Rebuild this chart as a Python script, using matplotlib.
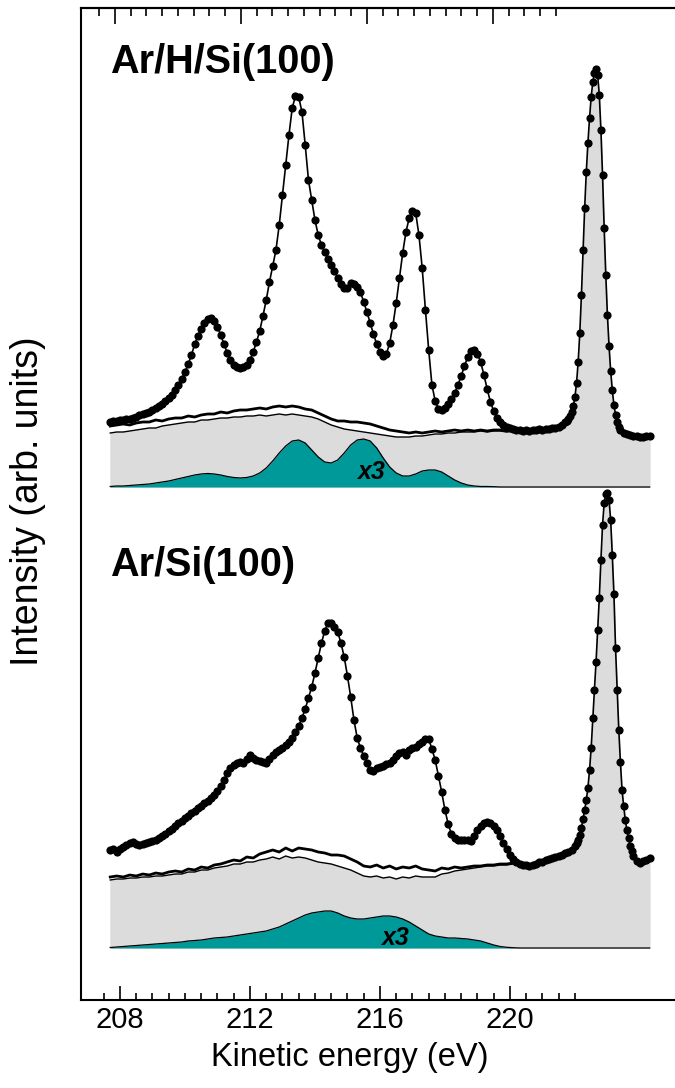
import matplotlib
matplotlib.use('Agg')
import matplotlib.pyplot as plt
import numpy as np

plt.rcParams['font.family'] = ['Liberation Sans', 'DejaVu Sans']

gray = '#dcdcdc'
teal = '#009999'

# ---- Ar/H/Si(100) (upper spectrum) ----
# measured points, eV ; fine step through the elastic peak
ah_energy = np.concatenate([np.arange(2077, 2218) / 10,
                            np.arange(22175, 22341, 5) / 100,
                            np.arange(2235, 2244) / 10])
ah_counts = np.array([
    6.5, 6.6, 6.6, 6.7, 6.7, 6.8, 6.8, 6.9, 7.0, 7.2,
    7.3, 7.4, 7.5, 7.7, 7.9, 8.1, 8.3, 8.6, 8.9, 9.2,
    9.7, 10.2, 10.8, 11.5, 12.3, 13.2, 14.3, 15.1, 15.8, 16.4,
    16.8, 16.9, 16.6, 16.0, 15.2, 14.3, 13.4, 12.7, 12.2, 12.0,
    11.9, 12.0, 12.2, 12.7, 13.5, 14.5, 15.6, 17.1, 18.7, 20.5,
    22.1, 23.7, 26.2, 29.2, 32.2, 35.2, 37.9, 39.1, 39.0, 37.5,
    34.2, 30.7, 28.7, 26.7, 25.2, 24.2, 23.5, 22.8, 22.2, 21.6,
    20.9, 20.3, 19.9, 19.9, 20.4, 20.3, 20.0, 19.5, 18.5, 17.5,
    16.4, 15.3, 14.3, 13.5, 13.1, 13.3, 14.4, 16.2, 18.4, 20.9,
    23.4, 25.5, 26.9, 27.6, 27.4, 25.2, 21.9, 17.7, 13.7, 10.2,
    8.6, 7.8, 7.7, 7.9, 8.3, 8.8, 9.4, 10.2, 11.1, 12.1,
    13.0, 13.6, 13.7, 13.3, 12.5, 11.2, 9.8, 8.5, 7.6, 6.9,
    6.5, 6.2, 6.0, 5.9, 5.8, 5.7, 5.7, 5.6, 5.7, 5.6,
    5.7, 5.7, 5.8, 5.7, 5.8, 5.8, 5.9, 5.9, 6.0, 6.2, 6.5,
    # elastic peak
    6.6, 6.8, 7.1, 7.5, 8.1, 9.0, 10.4, 12.5, 15.4, 19.2,
    23.7, 27.9, 31.5, 34.4, 36.9, 39.0, 40.5, 41.4, 41.8, 41.2,
    39.2, 35.7, 31.2, 25.9, 21.2, 17.2, 14.1, 11.6, 9.7, 8.2,
    7.2, 6.5, 6.0, 5.7,
    5.4, 5.3, 5.2, 5.1, 5.1, 5.0, 5.0, 5.1, 5.1])

# background curves and loss component, 0.2 eV grid
bg_energy = np.arange(2077, 2244, 2) / 10
ah_bg_hi = np.array([
    6.1, 6.2, 6.3, 6.2, 6.4, 6.5, 6.5, 6.7, 6.6, 6.8,
    6.9, 6.9, 7.1, 7.0, 7.2, 7.3, 7.3, 7.5, 7.4, 7.6,
    7.7, 7.7, 7.8, 7.9, 7.8, 8.0, 8.1, 8.0, 8.1, 8.0,
    7.8, 7.7, 7.4, 7.1, 6.8, 6.6, 6.6, 6.5, 6.5, 6.4,
    6.3, 6.1, 5.9, 5.7, 5.6, 5.5, 5.4, 5.5, 5.4, 5.5,
    5.6, 5.5, 5.6, 5.7, 5.6, 5.7, 5.6, 5.7, 5.6, 5.7,
    5.7, 5.6, 5.7, 5.7, 5.6, 5.7, 5.6, 5.7, 5.7, 5.8])
ah_bg_lo = np.array([
    5.4, 5.5, 5.5, 5.6, 5.7, 5.8, 5.9, 5.9, 6.1, 6.2,
    6.3, 6.4, 6.5, 6.5, 6.7, 6.7, 6.8, 6.9, 6.9, 7.0,
    7.0, 7.1, 7.1, 7.2, 7.1, 7.2, 7.3, 7.2, 7.3, 7.2,
    7.1, 7.0, 6.8, 6.5, 6.2, 6.0, 5.8, 5.7, 5.6, 5.5,
    5.4, 5.3, 5.2, 5.1, 5.0, 5.0, 5.0, 5.1, 5.1, 5.2,
    5.3, 5.3, 5.4, 5.4, 5.5, 5.5, 5.5, 5.6, 5.5, 5.6,
    5.6, 5.5, 5.6, 5.6, 5.5, 5.6, 5.6, 5.6, 5.6, 5.7])
ah_loss = np.array([
    0.05, 0.1, 0.1, 0.15, 0.2, 0.25, 0.3, 0.4, 0.5, 0.6,
    0.75, 0.9, 1.05, 1.2, 1.3, 1.35, 1.3, 1.2, 1.05, 0.95,
    0.9, 0.95, 1.1, 1.4, 1.9, 2.6, 3.4, 4.1, 4.6, 4.7,
    4.4, 3.7, 3.0, 2.5, 2.4, 2.7, 3.4, 4.2, 4.7, 4.8,
    4.6, 3.9, 2.9, 2.0, 1.4, 1.1, 1.1, 1.3, 1.6, 1.7,
    1.7, 1.5, 1.1, 0.7, 0.4, 0.2, 0.1, 0.05, 0.05, 0.03,
    0, 0, 0, 0, 0, 0, 0, 0, 0, 0,
    0, 0, 0, 0, 0, 0, 0, 0, 0, 0,
    0, 0, 0, 0])

# ---- Ar/Si(100) (lower spectrum) ----
ar_energy = np.concatenate([np.arange(2077, 2221) / 10,
                            np.arange(22205, 22376, 5) / 100,
                            np.arange(2238, 2244) / 10])
ar_counts = np.array([
    9.8, 9.9, 9.6, 9.9, 10.1, 10.3, 10.5, 10.6, 10.4, 10.3,
    10.4, 10.5, 10.6, 10.7, 10.8, 11.0, 11.2, 11.4, 11.7, 11.9,
    12.2, 12.5, 12.7, 13.0, 13.2, 13.5, 13.7, 14.0, 14.2, 14.5,
    14.7, 15.0, 15.3, 15.7, 16.2, 16.8, 17.5, 18.0, 18.3, 18.5,
    18.6, 18.5, 18.9, 19.3, 19.0, 18.8, 18.7, 18.6, 18.5, 18.9,
    19.3, 19.6, 19.8, 20.0, 20.3, 20.6, 21.0, 21.6, 22.2, 23.0,
    23.9, 25.0, 26.1, 27.5, 29.0, 30.5, 31.7, 32.5, 32.5, 32.1,
    31.6, 30.5, 29.1, 27.2, 25.1, 22.8, 21.0, 20.0, 19.2, 18.5,
    17.8, 17.7, 18.0, 18.1, 18.2, 18.4, 18.5, 18.8, 19.2, 19.5,
    19.6, 19.3, 19.8, 20.0, 20.1, 20.4, 20.6, 20.9, 20.9, 19.9,
    18.8, 17.2, 15.6, 13.8, 12.4, 11.4, 11.0, 10.8, 10.8, 10.8,
    10.8, 10.7, 11.2, 11.8, 12.2, 12.5, 12.6, 12.5, 12.2, 11.8,
    11.2, 10.5, 9.9, 9.3, 8.9, 8.6, 8.4, 8.3, 8.3, 8.2,
    8.3, 8.4, 8.6, 8.6, 8.8, 8.9, 9.0, 9.1, 9.2, 9.3,
    9.5, 9.6, 9.8, 10.2,
    # elastic peak
    10.5, 10.8, 11.3, 12.0, 12.9, 13.8, 14.8, 16.0, 17.8, 20.0,
    23.0, 25.8, 28.6, 31.8, 35.0, 38.8, 42.3, 44.5, 45.4, 45.5,
    44.8, 42.8, 39.3, 35.4, 30.0, 25.8, 21.8, 18.6, 15.8, 14.2,
    12.8, 11.8, 11.0, 10.2, 9.7,
    9.2, 8.7, 8.5, 8.7, 8.8, 9.0])
ar_bg_hi = np.array([
    7.1, 7.2, 7.1, 7.3, 7.2, 7.4, 7.3, 7.5, 7.4, 7.6,
    7.7, 7.6, 7.9, 7.8, 8.1, 8.0, 8.3, 8.4, 8.6, 8.8,
    8.7, 9.1, 9.0, 9.4, 9.6, 9.8, 9.6, 10.0, 9.7, 10.0,
    9.9, 9.8, 9.6, 9.5, 9.3, 9.3, 9.2, 8.9, 8.6, 8.2,
    8.1, 8.3, 8.0, 8.2, 7.9, 8.1, 8.0, 8.2, 7.9, 7.8,
    7.7, 8.0, 7.9, 8.1, 8.0, 8.1, 8.2, 8.2, 8.3, 8.3,
    8.4, 8.4, 8.5])
ar_bg_lo = np.array([
    6.8, 6.9, 6.9, 7.0, 7.0, 7.1, 7.1, 7.2, 7.2, 7.3,
    7.4, 7.4, 7.6, 7.6, 7.8, 7.8, 8.0, 8.1, 8.2, 8.4,
    8.4, 8.6, 8.6, 8.8, 8.9, 9.1, 8.9, 9.2, 9.0, 9.1,
    9.0, 8.8, 8.6, 8.5, 8.4, 8.2, 8.0, 7.8, 7.5, 7.2,
    7.1, 7.2, 7.0, 7.1, 6.9, 7.1, 7.0, 7.2, 7.1, 7.1,
    7.1, 7.4, 7.5, 7.7, 7.8, 7.9, 8.0, 8.1, 8.2, 8.2,
    8.3, 8.3, 8.4])
ar_loss = np.array([
    0.05, 0.1, 0.15, 0.2, 0.25, 0.3, 0.35, 0.4, 0.45, 0.5,
    0.55, 0.6, 0.7, 0.75, 0.8, 0.9, 1.0, 1.05, 1.1, 1.2,
    1.3, 1.4, 1.5, 1.6, 1.7, 1.9, 2.1, 2.4, 2.7, 3.0,
    3.3, 3.5, 3.6, 3.7, 3.7, 3.5, 3.2, 3.0, 2.9, 2.9,
    3.0, 3.1, 3.2, 3.2, 3.1, 2.9, 2.6, 2.2, 1.8, 1.4,
    1.2, 1.1, 1.0, 1.0, 0.95, 0.9, 0.8, 0.7, 0.5, 0.3,
    0.15, 0.07, 0.03, 0, 0, 0, 0, 0, 0, 0,
    0, 0, 0, 0, 0, 0, 0, 0, 0, 0,
    0, 0, 0, 0])

ah_off = 51.3   # vertical offset of upper spectrum
ar_off = 5.2
ah_cut = 221.5  # where background meets the elastic peak
ar_cut = 220.1

fig = plt.figure(figsize=(6.75, 10.88), dpi=100)
ax = fig.add_axes([81 / 675, 88 / 1088, 594 / 675, 992 / 1088])


def spectrum(e, y, e_bg, hi, lo, loss, off, cut):
    n = len(hi)
    ax.fill_between(e_bg[:n], off, off + lo, color=gray, lw=0.5, ec=gray, zorder=1)
    m = e >= cut
    ax.fill_between(e[m], off, off + y[m], color=gray, lw=0.5, ec=gray, zorder=1)
    ax.fill_between(e_bg, off, off + loss, color=teal, lw=0, zorder=2)
    ax.plot(e_bg, off + loss, color='k', lw=0.9, zorder=3)
    ax.plot(e_bg[:n], off + hi, color='k', lw=2.0, zorder=3)
    ax.plot(e_bg[:n], off + lo, color='k', lw=1.0, zorder=3)
    ax.plot(e, off + y, '-o', color='k', lw=1.2, ms=5.9, mew=0, zorder=4)


spectrum(ah_energy, ah_counts, bg_energy, ah_bg_hi, ah_bg_lo, ah_loss, ah_off, ah_cut)
spectrum(ar_energy, ar_counts, bg_energy, ar_bg_hi, ar_bg_lo, ar_loss, ar_off, ar_cut)

ax.text(207.69, 93.8, 'Ar/H/Si(100)', fontsize=28.5, fontweight='bold', ha='left', va='center')
ax.text(207.69, 43.5, 'Ar/Si(100)', fontsize=28.5, fontweight='bold', ha='left', va='center')
ax.text(215.72, 52.8, 'x3', fontsize=18, fontweight='bold', style='italic', ha='center', va='center', zorder=5)
ax.text(216.46, 6.2, 'x3', fontsize=18, fontweight='bold', style='italic', ha='center', va='center', zorder=5)

ax.set_xlim(206.8, 225.08)
ax.set_ylim(0, 99.2)
ax.set_yticks([])
ax.spines['right'].set_visible(False)
for s in ['left', 'bottom', 'top']:
    ax.spines[s].set_linewidth(1.5)

ax.set_xticks([208, 212, 216, 220])
ax.set_xticks(np.arange(2075, 2221, 5) / 10, minor=True)
ax.tick_params(axis='x', which='major', direction='in', length=10, width=1.2, labelsize=21, pad=4)
ax.tick_params(axis='x', which='minor', direction='in', length=5, width=1.2)

# upper panel was drawn on a slightly different energy scale
def to_top(e):
    return 208 + (5 + 32.5 * (e - 208)) / 31.5


def to_bottom(t):
    return 208 + (31.5 * (t - 208) - 5) / 32.5


top = ax.secondary_xaxis('top', functions=(to_top, to_bottom))
top.set_xticks([208, 212, 216, 220])
top.set_xticklabels([])
top.set_xticks(np.arange(2075, 2221, 5) / 10, minor=True)
top.tick_params(axis='x', which='major', direction='in', length=11.5, width=1.2)
top.tick_params(axis='x', which='minor', direction='in', length=6, width=1.2)
top.spines['top'].set_linewidth(1.5)

ax.set_xlabel('Kinetic energy (eV)', fontsize=23.5)
ax.xaxis.label.set_va('center')
ax.xaxis.set_label_coords(0.453, -0.0575)
ax.set_ylabel('Intensity (arb. units)', fontsize=27)
ax.yaxis.label.set_va('center')
ax.yaxis.set_label_coords(-0.0892, 0.503)

plt.savefig('out.png', dpi=100)
